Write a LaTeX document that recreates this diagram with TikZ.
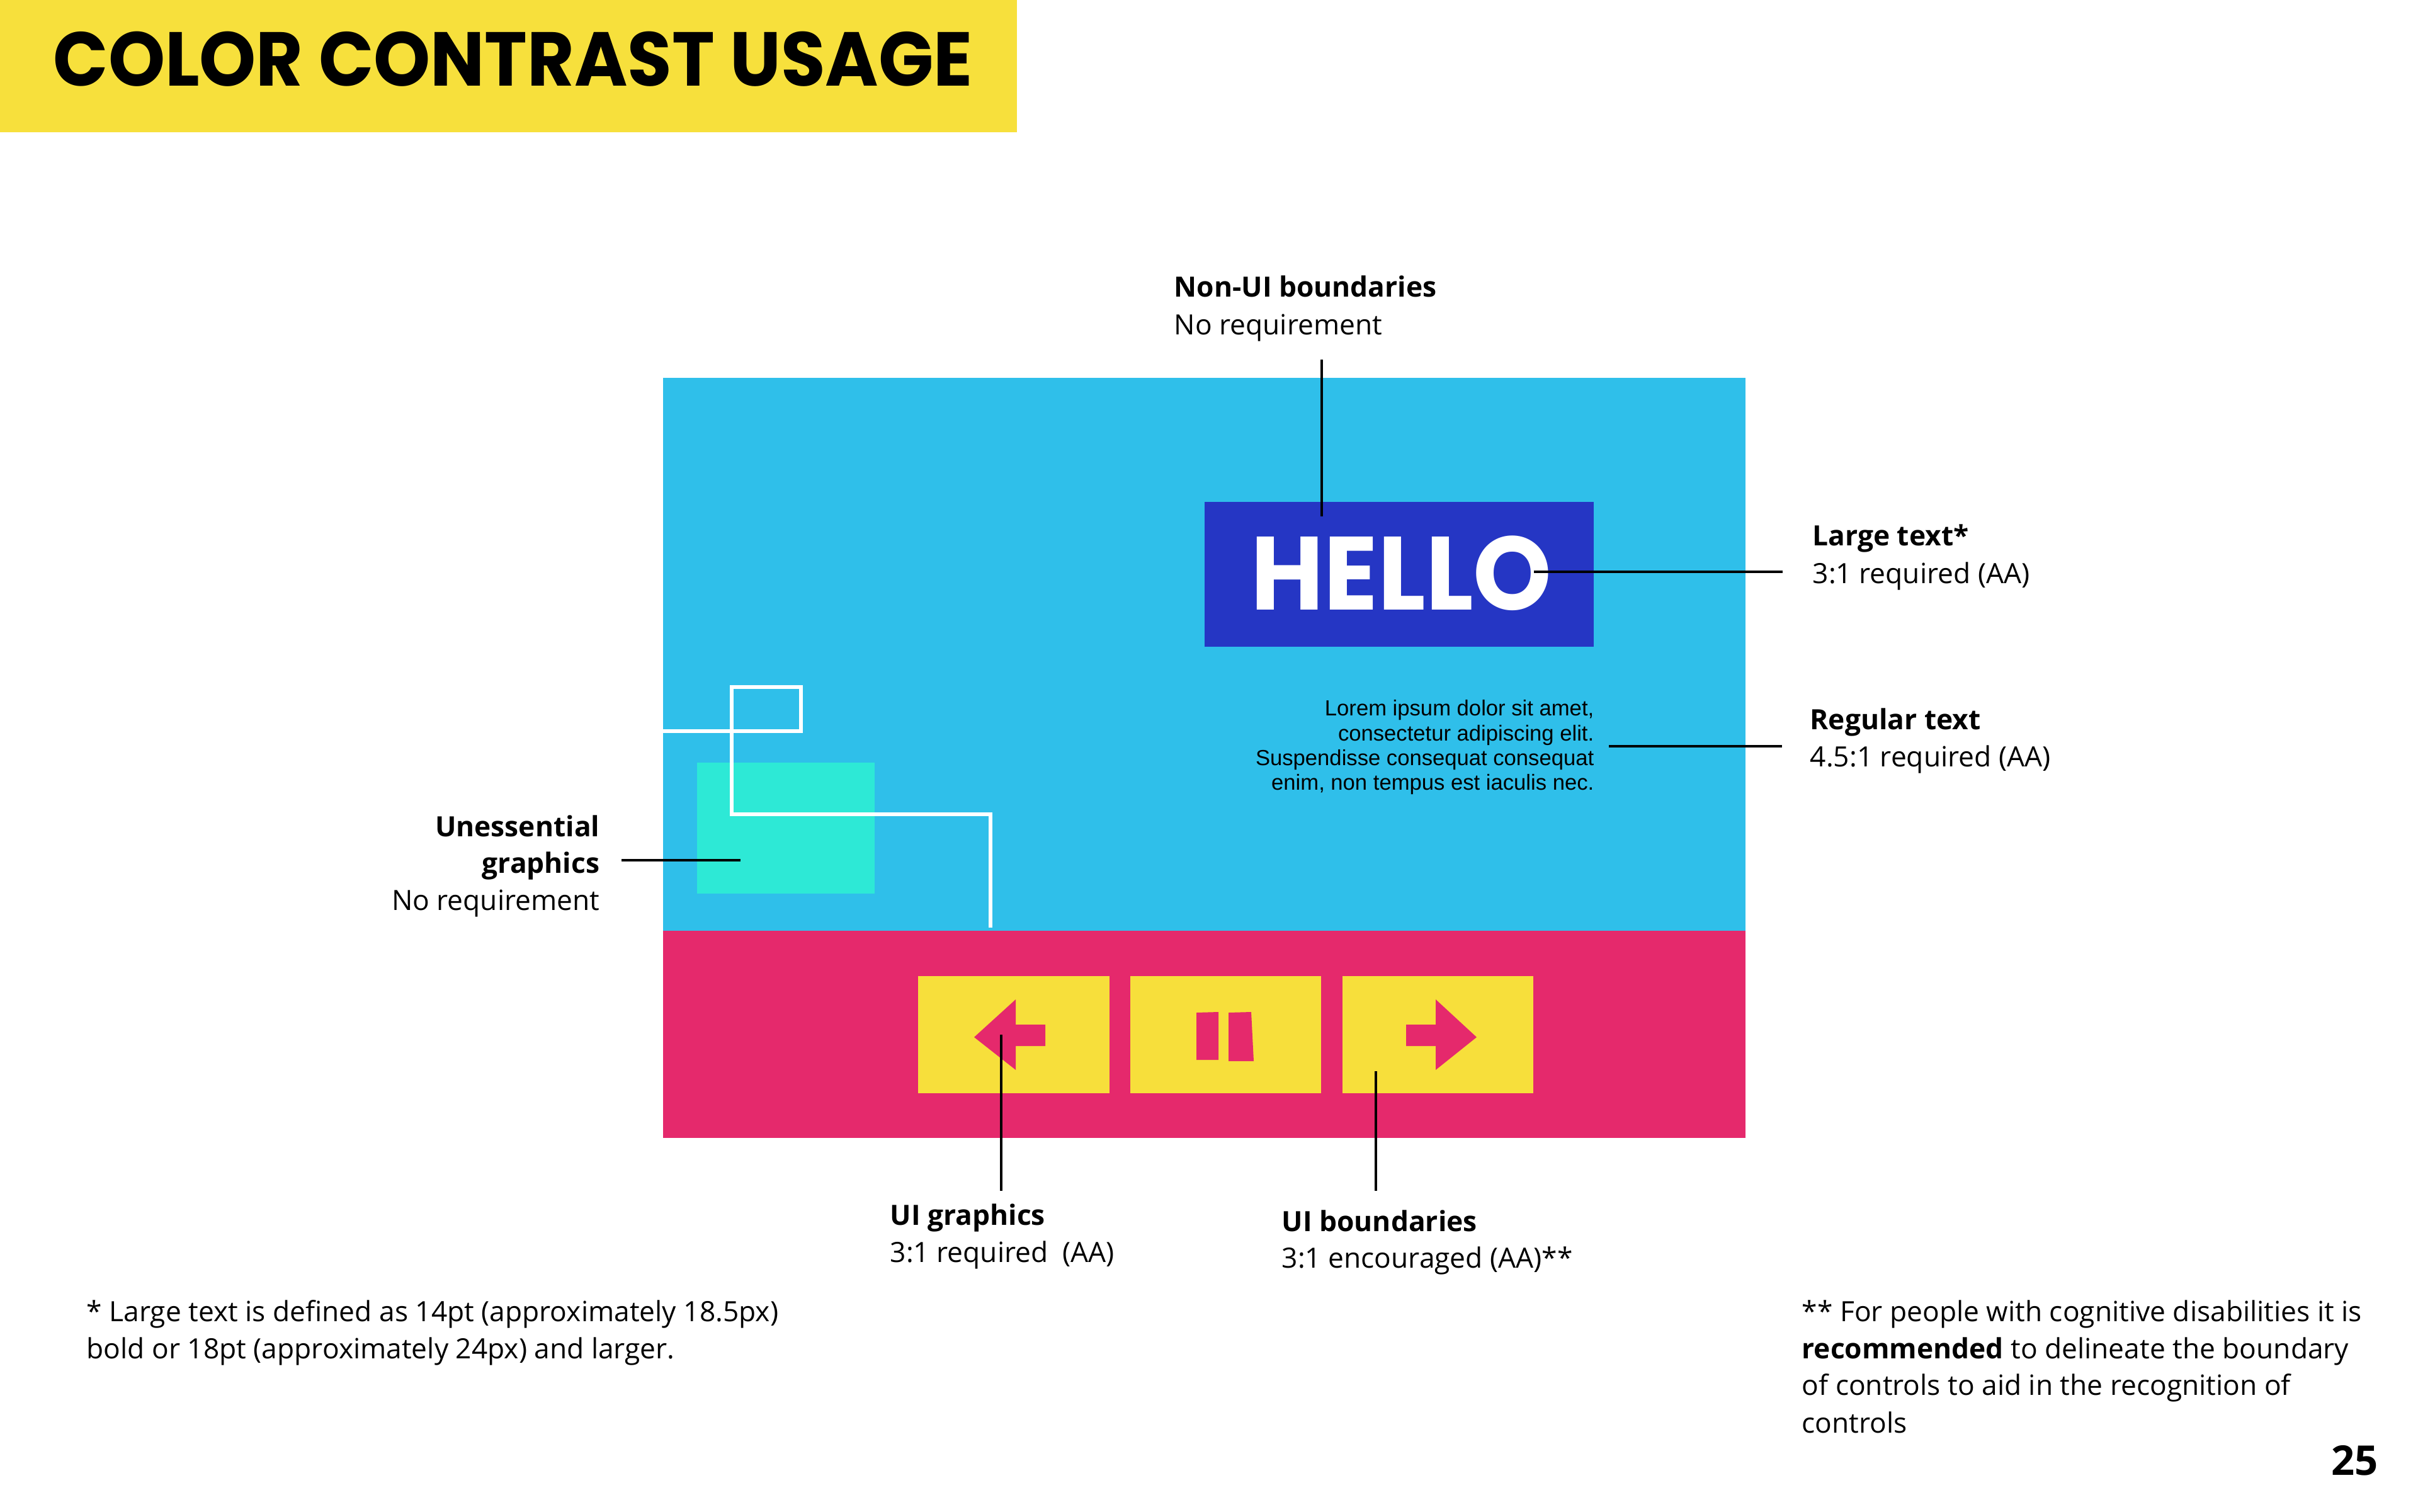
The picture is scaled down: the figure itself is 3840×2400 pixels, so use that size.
\documentclass[tikz,border=0pt]{standalone}
\usepackage{fontspec}
\usepackage{graphicx}
\setmainfont{Open Sans}
\newfontfamily\titlefont{Poppins}
\newfontfamily\loremfont{Liberation Sans}
\definecolor{ttlyellow}{HTML}{F7E03C}
\definecolor{skyblue}{HTML}{2FBFEA}
\definecolor{hotpink}{HTML}{E5296C}
\definecolor{royal}{HTML}{2536C4}
\definecolor{aquateal}{HTML}{2DE9D6}
\definecolor{btnyellow}{HTML}{F7DF3B}
\begin{document}
\begin{tikzpicture}[x=0.01cm,y=-0.01cm,
  lbl/.style={anchor=base west, inner sep=0, font=\fontsize{12.6}{14}\selectfont},
  lblb/.style={anchor=base west, inner sep=0, font=\fontsize{12.6}{14}\selectfont\bfseries},
  lblr/.style={anchor=base east, inner sep=0, font=\fontsize{12.6}{14}\selectfont},
  lblrb/.style={anchor=base east, inner sep=0, font=\fontsize{12.6}{14}\selectfont\bfseries},
  lorem/.style={anchor=base east, inner sep=0, font=\loremfont\fontsize{9.85}{11}\selectfont},
  conn/.style={line width=1.3pt, black},
  btn/.style={fill=btnyellow}]
\useasboundingbox (0,0) rectangle (3840,2400);
\fill[white] (0,0) rectangle (3840,2400);
% title
\fill[ttlyellow] (0,0) rectangle (1615,210);
\node[anchor=base west, inner sep=0, font=\titlefont\bfseries\fontsize{34.5}{34}\selectfont] (title) at (84,137) {\scalebox{0.945}[1]{COLOR CONTRAST USAGE}};
% panels
\fill[skyblue] (1053,600) rectangle (2772,1478);
\fill[hotpink] (1053,1478) rectangle (2772,1807);
\fill[royal] (1913,797) rectangle (2531,1027);
\node[anchor=base west, inner sep=0, text=white, font=\titlefont\bfseries\fontsize{47}{46}\selectfont] (hello) at (1986,968) {\scalebox{0.96}[1]{HELLO}};
\fill[aquateal] (1107,1211) rectangle (1389,1419);
\draw[white, line width=1.7pt] (1053,1161) -- (1272,1161) -- (1272,1091) -- (1162,1091) -- (1162,1293) -- (1573,1293) -- (1573,1473);
% lorem
\node[lorem] (lorem1) at (2532,1136) {Lorem ipsum dolor sit amet,};
\node[lorem] (lorem2) at (2532,1176) {consectetur adipiscing elit.};
\node[lorem] (lorem3) at (2532,1215) {Suspendisse consequat consequat};
\node[lorem] (lorem4) at (2532,1254) {enim, non tempus est iaculis nec.};
% buttons
\fill[btn] (1458,1550) rectangle (1762,1736);
\fill[btn] (1795,1550) rectangle (2098,1736);
\fill[btn] (2132,1550) rectangle (2435,1736);
\fill[hotpink] (1547,1647) -- (1613,1587) -- (1613,1627) -- (1660,1627) -- (1660,1661) -- (1613,1661) -- (1613,1699) -- cycle;
\fill[hotpink] (2345,1647) -- (2280,1587) -- (2280,1627) -- (2233,1627) -- (2233,1661) -- (2280,1661) -- (2280,1699) -- cycle;
\fill[hotpink] (1900,1608) -- (1935,1607) -- (1935,1683) -- (1900,1683) -- cycle;
\fill[hotpink] (1951,1608) -- (1987,1607) -- (1991,1685) -- (1951,1685) -- cycle;
% labels
\node[lblb] (nonuiT) at (1864,471) {Non-UI boundaries};
\node[lbl] (nonuiS) at (1864,531) {No requirement};
\node[lblb] (largeT) at (2878,866) {Large text*};
\node[lbl] (largeS) at (2878,926) {3:1 required (AA)};
\node[lblb] (regT) at (2874,1158) {Regular text};
\node[lbl] (regS) at (2874,1217) {4.5:1 required (AA)};
\node[lblrb] (uneT1) at (953,1328) {Unessential};
\node[lblrb] (uneT2) at (953,1386) {graphics};
\node[lblr] (uneS) at (953,1445) {No requirement};
\node[lblb] (uigT) at (1413,1945) {UI graphics};
\node[lbl] (uigS) at (1413,2004) {3:1 required\ \ (AA)};
\node[lblb] (uibT) at (2035,1955) {UI boundaries};
\node[lbl] (uibS) at (2035,2013) {3:1 encouraged (AA)**};
% connectors
\coordinate (nonuiA) at (2099,571); \coordinate (nonuiB) at (2099,820);
\coordinate (largeA) at (2831,908); \coordinate (largeB) at (2436,908);
\coordinate (regA) at (2830,1185); \coordinate (regB) at (2555,1185);
\coordinate (uneA) at (987,1366); \coordinate (uneB) at (1176,1366);
\coordinate (uigA) at (1590,1891); \coordinate (uigB) at (1590,1643);
\coordinate (uibA) at (2185,1891); \coordinate (uibB) at (2185,1701);
\draw[conn] (nonuiA) -- (nonuiB);
\draw[conn] (largeA) -- (largeB);
\draw[conn] (regA) -- (regB);
\draw[conn] (uneA) -- (uneB);
\draw[conn] (uigA) -- (uigB);
\draw[conn] (uibA) -- (uibB);
% footnotes
\node[lbl] (fnL1) at (137,2098) {* Large text is defined as 14pt (approximately 18.5px)};
\node[lbl] (fnL2) at (137,2157) {bold or 18pt (approximately 24px) and larger.};
\node[lbl] (fnR1) at (2861,2098) {** For people with cognitive disabilities it is};
\node[lbl] (fnR2) at (2861,2157) {\textbf{recommended} to delineate the boundary};
\node[lbl] (fnR3) at (2861,2215) {of controls to aid in the recognition of};
\node[lbl] (fnR4) at (2861,2275) {controls};
\node[anchor=base east, inner sep=0, font=\fontsize{18.5}{20}\selectfont\bfseries] (page) at (3777,2342) {25};
\end{tikzpicture}
\end{document}
